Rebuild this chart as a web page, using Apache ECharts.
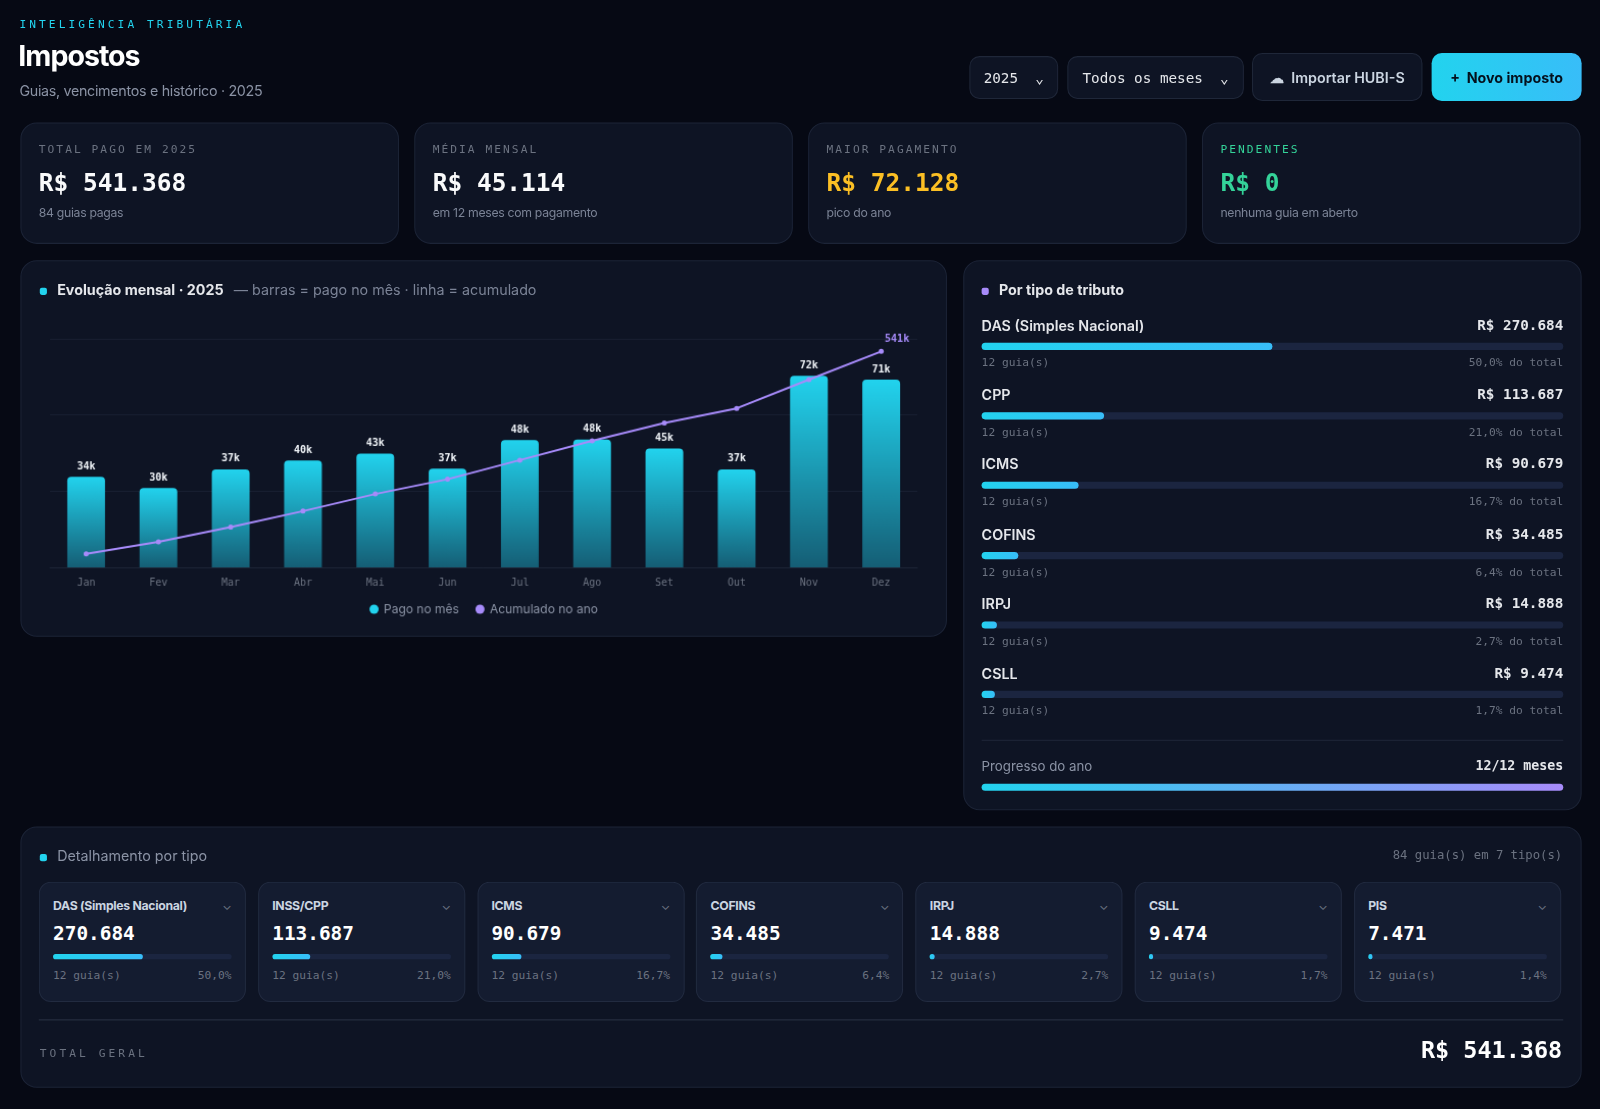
<!DOCTYPE html>
<html><head><meta charset="utf-8">
<script src="https://cdn.jsdelivr.net/npm/echarts@6/dist/echarts.min.js"></script>
<style>
*{box-sizing:border-box;margin:0;padding:0}
body{width:1600px;height:1109px;background:#060914;font-family:Inter,"Noto Sans",sans-serif;color:#e5e7eb;overflow:hidden}
#page{position:relative;width:1568px;height:1087px;transform:scale(1.0204);transform-origin:0 0}
.mono{font-family:"DejaVu Sans Mono",monospace}
.abs{position:absolute}
.panel{position:absolute;background:#0e1424;border:1px solid #1c2437;border-radius:16px}
.kick{font-family:"DejaVu Sans Mono",monospace;font-size:11px;letter-spacing:3px;color:#6b7280}
.btn{position:absolute;top:55px;height:42px;border:1px solid #1f2739;border-radius:10px;background:#0e1424;display:flex;align-items:center;justify-content:center;font-size:14px;color:#e5e7eb}
.dot{display:inline-block;width:7px;height:7px;border-radius:2px;margin-right:10px;vertical-align:middle}
.row{position:absolute;left:17px;right:17px}
.track{height:7px;border-radius:4px;background:#1b2540;position:relative}
.fill{position:absolute;left:0;top:0;bottom:0;border-radius:4px;background:linear-gradient(90deg,#22d3ee,#38bdf8)}
.sc{position:absolute;top:53px;width:203px;height:118px;background:#141c30;border:1px solid #222b40;border-radius:12px;padding:0 13px}
</style></head><body><div id="page">
<div class="abs kick" style="left:19px;top:17px;color:#22d3ee">INTELIGÊNCIA TRIBUTÁRIA</div>
<div class="abs" style="left:18px;top:38px;font-size:28px;font-weight:700;letter-spacing:-1px;color:#fff">Impostos</div>
<div class="abs" style="left:19px;top:80px;font-size:14px;color:#8b93a5;letter-spacing:-0.3px">Guias, vencimentos e histórico · 2025</div>
<div class="btn mono" style="left:950px;width:87px">2025 &nbsp;⌄</div>
<div class="btn mono" style="left:1046px;width:173px">Todos os meses &nbsp;⌄</div>
<div class="btn" style="left:1227px;width:167px;top:52px;height:47px;font-weight:600;color:#cbd5e1">☁&nbsp; Importar HUBI-S</div>
<div class="btn" style="left:1403px;width:147px;top:52px;height:47px;border:none;background:linear-gradient(90deg,#22d3ee,#38bdf8);color:#04101c;font-weight:700">+&nbsp; Novo imposto</div>

<div id="kpis"></div>

<div class="panel" style="left:20px;top:255px;width:908px;height:369px">
  <div class="abs" style="left:18px;top:19px;font-size:14px"><span class="dot" style="background:#22d3ee"></span><b style="color:#e5e7eb">Evolução mensal · 2025</b> <span style="color:#7b8396;margin-left:6px">— barras = pago no mês · linha = acumulado</span></div>
  <div id="chart" class="abs" style="left:0;top:50px;width:906px;height:316px"></div>
</div>

<div class="panel" style="left:944px;top:255px;width:606px;height:539px">
  <div class="abs" style="left:17px;top:19px;font-size:14px;font-weight:700"><span class="dot" style="background:#a78bfa"></span>Por tipo de tributo</div>
  <div id="tipos"></div>
  <div class="abs" style="left:17px;right:17px;top:469px;border-top:1px solid #1f2739"></div>
  <div class="row" style="top:487px;font-size:13px;color:#8b93a5">Progresso do ano<span class="mono" style="float:right;color:#e5e7eb;font-weight:700">12/12 meses</span></div>
  <div class="row" style="top:512px"><div class="track" style="height:7px;background:linear-gradient(90deg,#22d3ee,#a78bfa)"></div></div>
</div>

<div class="panel" style="left:20px;top:810px;width:1530px;height:256px">
  <div class="abs" style="left:18px;top:19px;font-size:14px;color:#8b93a5"><span class="dot" style="background:#22d3ee"></span>Detalhamento por tipo</div>
  <div class="abs mono" style="right:18px;top:20px;font-size:12px;color:#6b7280">84 guia(s) em 7 tipo(s)</div>
  <div id="cards"></div>
  <div class="abs" style="left:17px;right:17px;top:188px;border-top:1px solid #2a3245"></div>
  <div class="abs kick" style="left:18px;top:215px">TOTAL GERAL</div>
  <div class="abs mono" style="right:18px;top:205px;font-size:23px;font-weight:700;color:#fff">R$ 541.368</div>
</div>
</div>
<script>
var months = ['Jan','Fev','Mar','Abr','Mai','Jun','Jul','Ago','Set','Out','Nov','Dez'];
var paid = [34120, 29850, 36900, 40200, 42800, 37100, 47900, 48100, 44770, 36900, 72128, 70600];

var kpiLabels = ['TOTAL PAGO EM 2025','MÉDIA MENSAL','MAIOR PAGAMENTO','PENDENTES'];
var kpiValues = ['R$ 541.368','R$ 45.114','R$ 72.128','R$ 0'];
var kpiNotes = ['84 guias pagas','em 12 meses com pagamento','pico do ano','nenhuma guia em aberto'];
var kpiColors = ['#f9fafb','#f9fafb','#fbbf24','#34d399'];

var tipoNames = ['DAS (Simples Nacional)','CPP','ICMS','COFINS','IRPJ','CSLL'];
var tipoValues = ['R$ 270.684','R$ 113.687','R$ 90.679','R$ 34.485','R$ 14.888','R$ 9.474'];
var tipoPct = [50.0, 21.0, 16.7, 6.4, 2.7, 1.7];

var cardNames = ['DAS (Simples Nacional)','INSS/CPP','ICMS','COFINS','IRPJ','CSLL','PIS'];
var cardValues = ['270.684','113.687','90.679','34.485','14.888','9.474','7.471'];
var cardPct = [50.0, 21.0, 16.7, 6.4, 2.7, 1.7, 1.4];

var h = '';
for (var i = 0; i < 4; i++) {
  h += '<div class="panel" style="left:' + (20 + i * 386) + 'px;top:120px;width:371px;height:119px;padding:0 17px">' +
    '<div class="kick" style="margin-top:19px;letter-spacing:2px;color:' + (i == 3 ? '#34d399' : '#6b7280') + '">' + kpiLabels[i] + '</div>' +
    '<div class="mono" style="margin-top:12px;font-size:24px;font-weight:700;color:' + kpiColors[i] + '">' + kpiValues[i] + '</div>' +
    '<div style="margin-top:8px;font-size:12px;color:#7b8396;letter-spacing:-0.3px">' + kpiNotes[i] + '</div></div>';
}
document.getElementById('kpis').innerHTML = h;

h = '';
for (var i = 0; i < tipoNames.length; i++) {
  var t = 54 + i * 68.2;
  h += '<div class="row" style="top:' + t + 'px;font-size:14px;font-weight:600">' + tipoNames[i] +
    '<span class="mono" style="float:right;font-weight:700">' + tipoValues[i] + '</span></div>' +
    '<div class="row" style="top:' + (t + 26) + 'px"><div class="track"><div class="fill" style="width:' + Math.max(tipoPct[i], 2.2) + '%"></div></div></div>' +
    '<div class="row mono" style="top:' + (t + 39) + 'px;font-size:11px;color:#6b7280">12 guia(s)<span style="float:right">' +
    tipoPct[i].toFixed(1).replace('.', ',') + '% do total</span></div>';
}
document.getElementById('tipos').innerHTML = h;

h = '';
for (var i = 0; i < cardNames.length; i++) {
  h += '<div class="sc" style="left:' + (17 + i * 214.8) + 'px">' +
    '<div style="margin-top:15px;font-size:12px;font-weight:700;color:#cbd5e1;letter-spacing:-0.3px">' + cardNames[i] + '<span style="float:right;color:#6b7280;font-weight:400">⌄</span></div>' +
    '<div class="mono" style="margin-top:8px;font-size:19px;font-weight:700;color:#fff">' + cardValues[i] + '</div>' +
    '<div class="track" style="margin-top:10px;height:5px"><div class="fill" style="width:' + Math.max(cardPct[i], 2.5) + '%"></div></div>' +
    '<div class="mono" style="margin-top:9px;font-size:11px;color:#6b7280">12 guia(s)<span style="float:right">' + cardPct[i].toFixed(1).replace('.', ',') + '%</span></div></div>';
}
document.getElementById('cards').innerHTML = h;

var cum = [], s = 0;
for (var i = 0; i < paid.length; i++) { s += paid[i]; cum.push(s); }
function k(v) { return Math.round(v / 1000) + 'k'; }

var myChart = echarts.init(document.getElementById('chart'));
myChart.setOption({
  textStyle: { fontFamily: 'Inter' },
  grid: { left: 28, right: 28, top: 26, bottom: 66 },
  legend: {
    bottom: 14, itemWidth: 9, itemHeight: 9, itemGap: 16,
    textStyle: { color: '#8b93a5', fontSize: 12 },
    data: [{ name: 'Pago no mês', icon: 'circle', itemStyle: { color: '#22d3ee' } }, { name: 'Acumulado no ano', icon: 'circle' }]
  },
  xAxis: {
    type: 'category', data: months,
    axisLine: { lineStyle: { color: '#1f2739' } }, axisTick: { show: false },
    axisLabel: { color: '#6b7280', fontFamily: 'DejaVu Sans Mono', fontSize: 10, margin: 10 }
  },
  yAxis: [
    { type: 'value', min: 0, max: 86000, interval: 86000 / 3, axisLabel: { show: false },
      splitLine: { lineStyle: { color: '#1a2133' } } },
    { type: 'value', min: 0, max: 573000, axisLabel: { show: false }, splitLine: { show: false } }
  ],
  series: [
    { name: 'Pago no mês', type: 'bar', data: paid, barWidth: 37,
      itemStyle: { borderRadius: [4, 4, 0, 0], color: new echarts.graphic.LinearGradient(0, 0, 0, 1, [
        { offset: 0, color: '#22d3ee' }, { offset: 1, color: '#155e75' }]) },
      label: { show: true, position: 'top', color: '#f1f5f9', fontFamily: 'DejaVu Sans Mono', fontSize: 10, fontWeight: 'bold',
        formatter: function (p) { return k(p.value); } } },
    { name: 'Acumulado no ano', type: 'line', yAxisIndex: 1, data: cum, symbol: 'circle', symbolSize: 5,
      lineStyle: { color: '#a78bfa', width: 2 }, itemStyle: { color: '#a78bfa' },
      label: { show: true, position: 'right', offset: [-4, -12], color: '#a78bfa', fontFamily: 'DejaVu Sans Mono', fontSize: 10, fontWeight: 'bold',
        formatter: function (p) { return p.dataIndex == 11 ? k(p.value) : ''; } } }
  ]
});
</script>
</body></html>
